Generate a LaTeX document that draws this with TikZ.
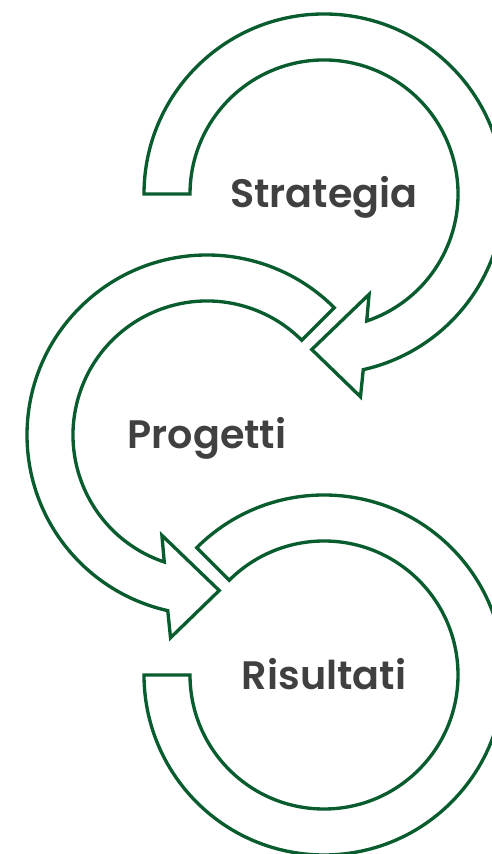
\documentclass[tikz,border=0pt]{standalone}
\usepackage{fontspec}
\setmainfont{Poppins}[BoldFont={Poppins SemiBold}]
\usepackage{tikz}
\usetikzlibrary{calc,positioning}
\definecolor{bandgreen}{RGB}{8,92,46}
\definecolor{lblgrey}{RGB}{64,64,64}

\begin{document}
\begin{tikzpicture}[x=0.02cm,y=0.02cm,
  band/.style={draw=bandgreen,line width=1.9pt,fill=white,line join=miter},
  lbl/.style={text=lblgrey,font=\fontsize{22.6}{26}\selectfont\bfseries,anchor=base}]
\useasboundingbox (0,0) rectangle (491,854);
\coordinate (S) at (324,660);
\coordinate (P) at (207,419);
\coordinate (R) at (324,179);
% Risultati ring
\draw[band] ($(R)+(135:134)$) -- ($(R)+(135:180)$) arc (135:-180:180)
  -- ($(R)+(180:134)$) arc (-180:135:134) -- cycle;
% Progetti arrow
\draw[band] ($(P)+(45:134)$) -- ($(P)+(45:180)$) arc (45:257.4:180)
  -- ($(P)+(259.8:206)$) -- ($(P)+(274.5:156)$) -- ($(P)+(245.8:110)$)
  -- ($(P)+(251.4:134)$) arc (251.4:45:134) -- cycle;
% Strategia arrow
\draw[band] ($(S)+(180:134)$) -- ($(S)+(180:180)$) arc (180:-77.4:180)
  -- ($(S)+(-79.8:206)$) -- ($(S)+(-94.5:156)$) -- ($(S)+(-65.8:110)$)
  -- ($(S)+(-71.4:134)$) arc (-71.4:180:134) -- cycle;
\node[lbl] (strategia) at ($(S)+(0,-14)$) {Strategia};
\node[lbl] (progetti) at ($(P)+(0,-14)$) {Progetti};
\node[lbl] (risultati) at ($(R)+(0,-15)$) {Risultati};
\end{tikzpicture}
\end{document}
